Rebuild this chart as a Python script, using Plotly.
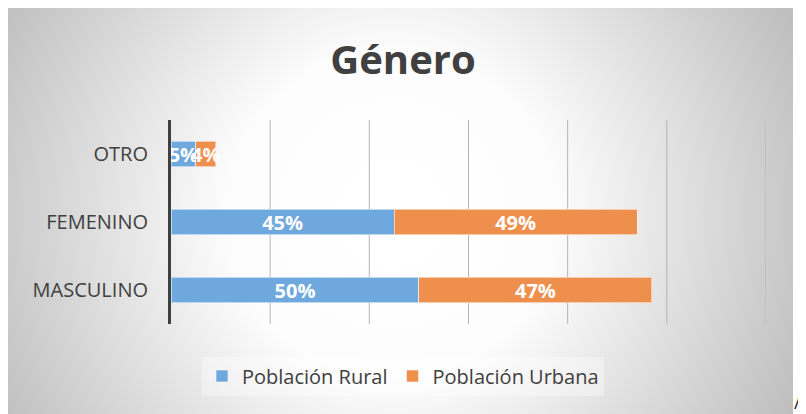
import base64

import plotly.graph_objs as go

# Data
categories = ['MASCULINO', 'FEMENINO', 'OTRO']
rural = [50, 45, 5]
urbana = [47, 49, 4]
series_names = ['Población Rural', 'Población Urbana']
colors = ['#6fa8dc', '#ef8f4e']
grid_vals = [20, 40, 60, 80, 100, 120]

# the page puts the figure 8px in from the top-left of the window
OFF = 8
W, H = 806 - OFF, 414 - OFF
L, R, T, B = 171 - OFF, 806 - 766, 120 - OFF, 414 - 324
pw, ph = W - L - R, H - T - B


def px_x(x):
    return (x - OFF - L) / pw


def px_y(y):
    return 1 - (y - OFF - T) / ph


# radial gray background of the chart box (window x 8..793, y 8..414)
bx0, by0, bx1, by1 = 8, 8, 793, 414
bw, bh = bx1 - bx0, by1 - by0
svg = (
    f'<svg xmlns="http://www.w3.org/2000/svg" width="{bw}" height="{bh}">'
    '<defs><radialGradient id="g" gradientUnits="userSpaceOnUse" '
    f'cx="{392 - bx0}" cy="{215 - by0}" r="450">'
    '<stop offset="0" stop-color="#ffffff"/>'
    '<stop offset="0.36" stop-color="#fdfdfd"/>'
    '<stop offset="1" stop-color="#bdbdbd"/>'
    '</radialGradient></defs>'
    f'<rect width="{bw}" height="{bh}" fill="url(#g)"/></svg>'
)
bg_src = 'data:image/svg+xml;base64,' + base64.b64encode(svg.encode()).decode()

font_family = 'Open Sans, Noto Sans, sans-serif'

data = []
for name, vals, col in zip(series_names, [rural, urbana], colors):
    data.append(go.Bar(
        y=categories, x=vals, name=name, orientation='h',
        marker=dict(color=col, line=dict(color='rgba(255,255,255,0.55)', width=1)),
        texttemplate='%{x}%', textposition='inside', insidetextanchor='middle',
        textangle=0,
        textfont=dict(color='white', size=20, family=font_family, weight='bold'),
        cliponaxis=False,
    ))

# vertical gridlines drawn as shapes so the one at the range end shows too
grid_shapes = [dict(type='line', xref='x', yref='paper', x0=v, x1=v, y0=0, y1=1,
                    line=dict(color='#b4b4b4', width=1), layer='below')
               for v in grid_vals]

layout = go.Layout(
    width=W, height=H,
    barmode='stack', bargap=0.62,
    paper_bgcolor='white', plot_bgcolor='rgba(0,0,0,0)',
    margin=dict(l=L, r=R, t=T, b=B, pad=0),
    title=dict(text='<b>Género</b>', x=(403 - OFF) / W, xanchor='center',
               xref='container', y=1 - (60 - OFF) / H, yanchor='middle',
               font=dict(size=40, color='#404040', family=font_family)),
    xaxis=dict(range=[0, 120], showticklabels=False, showgrid=False,
               zeroline=False, showline=False, fixedrange=True),
    yaxis=dict(showgrid=False, zeroline=False, showline=True,
               linecolor='#404040', linewidth=3, ticks='',
               ticklabelstandoff=16,
               tickfont=dict(size=20, color='#404040', family=font_family)),
    legend=dict(orientation='h', x=px_x(403), xanchor='center',
                y=px_y(376), yanchor='middle',
                bgcolor='rgba(255,255,255,0.35)',
                font=dict(size=20, color='#404040', family=font_family),
                itemwidth=30, traceorder='normal'),
    uniformtext=dict(minsize=20, mode='show'),
    shapes=grid_shapes,
    images=[dict(source=bg_src, xref='paper', yref='paper',
                 x=px_x(bx0), y=px_y(by0),
                 sizex=bw / pw, sizey=bh / ph, sizing='stretch',
                 xanchor='left', yanchor='top', layer='below')],
    annotations=[dict(text='/', xref='paper', yref='paper',
                      x=px_x(797), y=px_y(402), xanchor='center', yanchor='middle',
                      showarrow=False, font=dict(size=18, color='#222222'))],
)

fig = go.Figure(data=data, layout=layout)
fig.write_html('out.html')
